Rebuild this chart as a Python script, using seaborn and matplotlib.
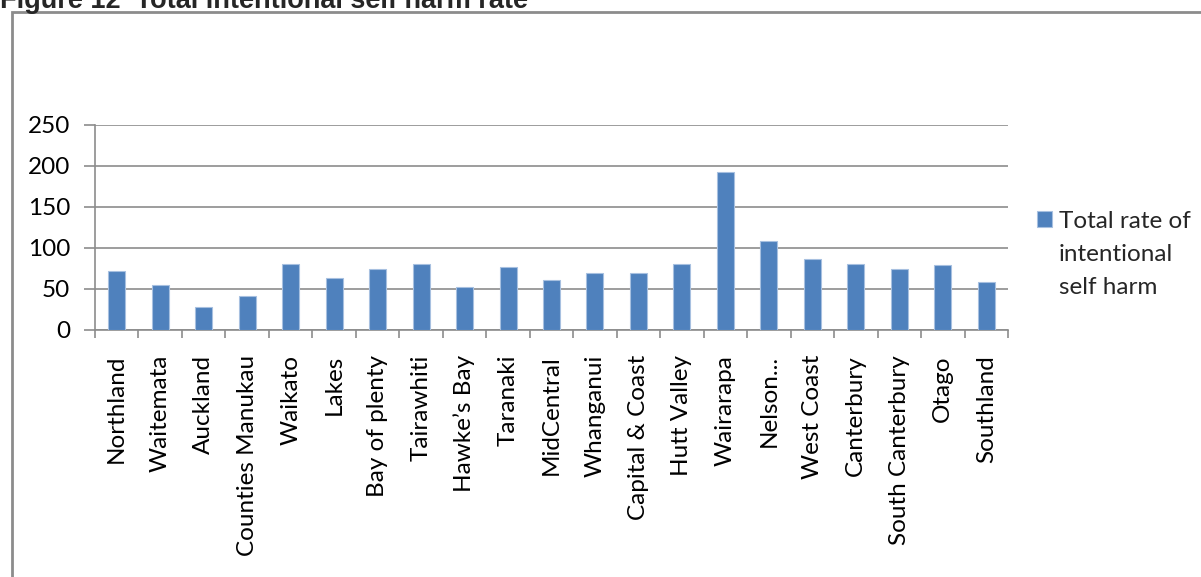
import matplotlib
matplotlib.use("Agg")
import matplotlib.pyplot as plt
from matplotlib.patches import Rectangle, Patch
import seaborn as sns
import pandas as pd
import numpy as np

regions = ["Northland", "Waitemata", "Auckland", "Counties Manukau", "Waikato",
           "Lakes", "Bay of plenty", "Tairawhiti", "Hawke\u2019s Bay", "Taranaki",
           "MidCentral", "Whanganui", "Capital & Coast", "Hutt Valley", "Wairarapa",
           "Nelson...", "West Coast", "Canterbury", "South Canterbury", "Otago",
           "Southland"]
rates = [72, 55, 28, 42, 81, 64, 74, 80, 53, 77, 61, 69, 69, 80, 193, 109, 86,
         80, 75, 79, 59]
y_ticks = [0, 50, 100, 150, 200, 250]
series_lines = ["Total rate of", "intentional", "self harm"]
title = "Figure 12  Total intentional self harm rate"

sns.set_theme(style="white")
plt.rcParams["font.family"] = ["Lato", "DejaVu Sans"]

W, H = 1201, 577
fig = plt.figure(figsize=(W / 100, H / 100), dpi=100)
ax = fig.add_axes([95 / W, 1 - 330 / H, (1008 - 95) / W, (330 - 125) / H])

df = pd.DataFrame({"region": regions, "rate": rates})
sns.barplot(data=df, x="region", y="rate", color="#4F81BD", width=0.39,
            saturation=1, edgecolor="#A7C0E0", linewidth=0.8, ax=ax, zorder=3)

ax.set_ylim(0, 250)
ax.set_xlim(-0.5, len(regions) - 0.5)
ax.set_yticks(y_ticks)
ax.set_yticklabels([str(v) for v in y_ticks], fontsize=17.5, color="#000000")
ax.yaxis.grid(True, color="#8C8C8C", linewidth=1.2, zorder=0)
ax.set_xlabel("")
ax.set_ylabel("")

ax.set_xticks(range(len(regions)))
ax.set_xticklabels(regions, rotation=90, fontsize=17.5, color="#000000")
ax.set_xticks(np.arange(-0.5, len(regions), 1.0), minor=True)
ax.tick_params(axis="x", which="major", length=0, pad=18)
ax.tick_params(axis="x", which="minor", length=6, width=1.2, color="#8C8C8C",
               bottom=True)
ax.tick_params(axis="y", length=8, width=1.2, color="#8C8C8C", left=True, pad=10)

for s in ["top", "right"]:
    ax.spines[s].set_visible(False)
for s in ["left", "bottom"]:
    ax.spines[s].set_visible(True)
    ax.spines[s].set_color("#8C8C8C")
    ax.spines[s].set_linewidth(1.2)

# legend: swatch beside the first line only
handles = [Patch(facecolor="#4F81BD", edgecolor="#A7C0E0", linewidth=0.8),
           Patch(facecolor="none", edgecolor="none"),
           Patch(facecolor="none", edgecolor="none")]
fig.legend(handles, series_lines, loc="upper left",
           bbox_to_anchor=(1027 / W, 1 - 201 / H), frameon=False, fontsize=17.5,
           handlelength=0.62, handleheight=0.62, handletextpad=0.3,
           labelspacing=0.5, borderaxespad=0)

fig.patches.append(Rectangle((12 / W, -0.1), 1.2, 1 - 12 / H + 0.1,
                             transform=fig.transFigure, fill=False,
                             edgecolor="#8C8C8C", linewidth=2))

fig.text(0, 1 - 8 / H, title, fontsize=19.5, fontweight="bold",
         family="Liberation Sans", va="baseline", ha="left")

fig.savefig("out.png", dpi=100)
